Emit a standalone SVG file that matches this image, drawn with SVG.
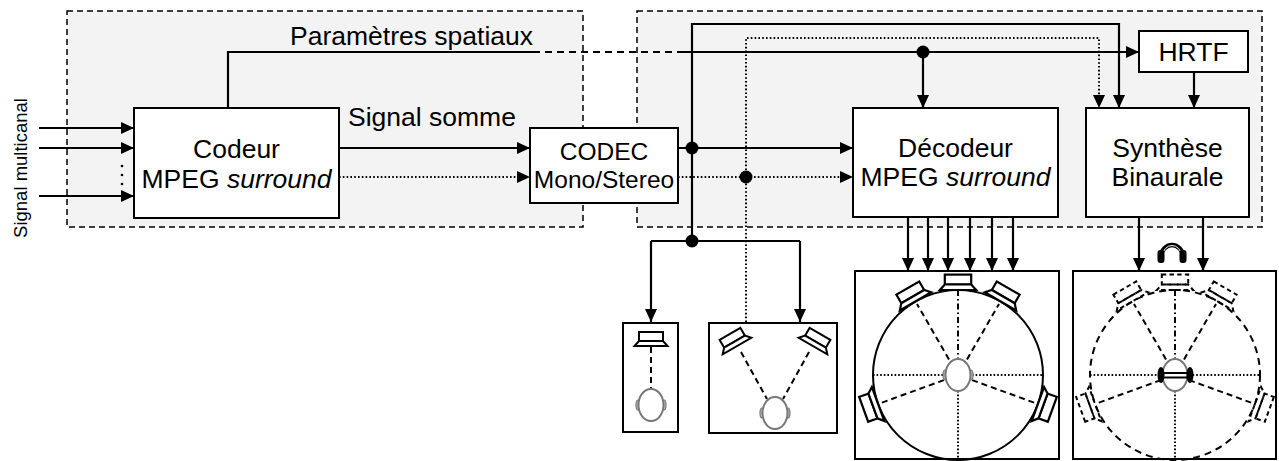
<svg xmlns="http://www.w3.org/2000/svg" width="1279" height="461" viewBox="0 0 1279 461">
  <style>
    text { font-family: "Liberation Sans", Arial, sans-serif; fill: #000; }
    .lbl { font-size: 26.5px; }
    .ctr { text-anchor: middle; }
    .grp { fill: #f3f3f3; stroke: #000; stroke-width: 1.5; stroke-dasharray: 6 4; }
    .box { fill: #fff; stroke: #000; stroke-width: 2; }
    .w { fill: none; stroke: #000; stroke-width: 2.2; }
    .dt { fill: none; stroke: #000; stroke-width: 2; stroke-dasharray: 1.6 2.2; }
    .ds { fill: none; stroke: #000; stroke-width: 2; stroke-dasharray: 7 5; }
    .jn { fill: #000; }
    .spk { fill: #fff; stroke: #000; stroke-width: 2; stroke-linejoin: miter; }
    .spkd { fill: none; stroke: #000; stroke-width: 1.8; stroke-dasharray: 4 3; }
    .ray { fill: none; stroke: #000; stroke-width: 2; stroke-dasharray: 6 4; }
    .raydd { fill: none; stroke: #000; stroke-width: 2; stroke-dasharray: 6 3 1.5 3; }
    .rayd { fill: none; stroke: #000; stroke-width: 2; stroke-dasharray: 1.6 2; }
  </style>
  <defs>
    <marker id="arr" markerUnits="userSpaceOnUse" markerWidth="14" markerHeight="13" refX="13" refY="6" orient="auto">
      <path d="M0,0 L13,6 L0,12 Z" fill="#000" stroke="none"/>
    </marker>
    <!-- loudspeaker: base centred on the origin, facing +y -->
    <g id="spkShape">
      <rect x="-12" y="-14" width="24" height="9"/>
      <path d="M-12,-5 H12 L16.5,0 H-16.5 Z"/>
    </g>
    <!-- listener head seen from above -->
    <g id="head">
      <ellipse cx="-13" cy="0" rx="2" ry="5" fill="#bbb" stroke="#777" stroke-width="1.2"/>
      <ellipse cx="13" cy="0" rx="2" ry="5" fill="#bbb" stroke="#777" stroke-width="1.2"/>
      <ellipse cx="0" cy="0" rx="12.5" ry="16" fill="#fff" stroke="#777" stroke-width="2"/>
    </g>
    <!-- rays from listener to a 5-speaker layout -->
    <g id="rays">
      <path class="raydd" d="M0,-85 V-16"/>
      <path class="ray" d="M-9,-15.6 L-41,-71 M9,-15.6 L41,-71 M-14.1,5.1 L-77.1,28 M14.1,5.1 L77.1,28"/>
      <path class="rayd" d="M-85,0 H-14 M14,0 H85 M0,16 V85"/>
    </g>
  </defs>

  <!-- encoder side and decoder side groupings -->
  <rect class="grp" x="67" y="11" width="516" height="216"/>
  <rect class="grp" x="637" y="11" width="625" height="216"/>

  <text transform="translate(27,168) rotate(-90)" font-size="18.5" text-anchor="middle">Signal multicanal</text>
  <text class="lbl" x="290" y="45">Paramètres spatiaux</text>
  <text class="lbl" x="348" y="126">Signal somme</text>

  <g id="codeur">
    <rect class="box" x="134" y="108" width="205" height="110"/>
    <text class="lbl ctr" x="236.5" y="158">Codeur</text>
    <text class="lbl ctr" x="236.5" y="188">MPEG <tspan font-style="italic">surround</tspan></text>
  </g>

  <g id="codec">
    <rect class="box" x="530" y="128" width="148" height="75"/>
    <text class="ctr" x="604" y="160" font-size="24.5">CODEC</text>
    <text class="ctr" x="604" y="188" font-size="24.5">Mono/Stereo</text>
  </g>

  <g id="decodeur">
    <rect class="box" x="853" y="108" width="205" height="109"/>
    <text class="lbl ctr" x="955.5" y="157">Décodeur</text>
    <text class="lbl ctr" x="955.5" y="186">MPEG <tspan font-style="italic">surround</tspan></text>
  </g>

  <g id="synthese">
    <rect class="box" x="1086" y="108" width="163" height="109"/>
    <text class="lbl ctr" x="1167.5" y="157">Synthèse</text>
    <text class="lbl ctr" x="1167.5" y="186">Binaurale</text>
  </g>

  <g id="hrtf">
    <rect class="box" x="1139" y="31" width="109" height="41"/>
    <text class="lbl ctr" x="1193.5" y="61">HRTF</text>
  </g>

  <!-- mono playback -->
  <g id="mono">
    <rect class="box" x="623" y="323" width="55" height="109"/>
    <path class="ray" d="M651,347 V389"/>
    <use href="#spkShape" class="spk" transform="translate(651,346)"/>
    <use href="#head" transform="translate(651,405)"/>
  </g>

  <!-- stereo playback -->
  <g id="stereo">
    <rect class="box" x="709" y="323" width="128" height="110"/>
    <path class="ray" d="M741,352 L767,399 M809,352 L783,399"/>
    <use href="#spkShape" class="spk" transform="translate(737,346) rotate(-30)"/>
    <use href="#spkShape" class="spk" transform="translate(813,346) rotate(30)"/>
    <use href="#head" transform="translate(775,413)"/>
  </g>

  <!-- 5.1 loudspeaker playback -->
  <g id="multicanal">
    <rect class="box" x="855" y="271" width="204" height="188"/>
    <circle cx="958" cy="375" r="85" fill="none" stroke="#000" stroke-width="2"/>
    <use href="#rays" transform="translate(958,375)"/>
    <use href="#spkShape" class="spk" transform="translate(958,375) rotate(0) translate(0,-85) scale(1.1)"/>
    <use href="#spkShape" class="spk" transform="translate(958,375) rotate(-30) translate(0,-85) scale(1.1)"/>
    <use href="#spkShape" class="spk" transform="translate(958,375) rotate(30) translate(0,-85) scale(1.1)"/>
    <use href="#spkShape" class="spk" transform="translate(958,375) rotate(-110) translate(0,-85) scale(1.1)"/>
    <use href="#spkShape" class="spk" transform="translate(958,375) rotate(110) translate(0,-85) scale(1.1)"/>
    <use href="#head" transform="translate(958,375)"/>
  </g>

  <!-- binaural playback over headphones with virtual speakers -->
  <g id="binaural">
    <rect class="box" x="1073" y="271" width="203" height="188"/>
    <circle cx="1175" cy="375" r="85" fill="none" stroke="#000" stroke-width="2" stroke-dasharray="7 5"/>
    <use href="#rays" transform="translate(1175,375)"/>
    <use href="#spkShape" class="spkd" transform="translate(1175,375) rotate(0) translate(0,-85) scale(1.1)"/>
    <use href="#spkShape" class="spkd" transform="translate(1175,375) rotate(-30) translate(0,-85) scale(1.1)"/>
    <use href="#spkShape" class="spkd" transform="translate(1175,375) rotate(30) translate(0,-85) scale(1.1)"/>
    <use href="#spkShape" class="spkd" transform="translate(1175,375) rotate(-110) translate(0,-85) scale(1.1)"/>
    <use href="#spkShape" class="spkd" transform="translate(1175,375) rotate(110) translate(0,-85) scale(1.1)"/>
    <use href="#head" transform="translate(1175,375)"/>
    <path d="M1163,373 H1188 M1163,377.5 H1188" stroke="#000" stroke-width="1.8"/>
    <ellipse cx="1161" cy="375" rx="3.5" ry="8" fill="#000"/>
    <ellipse cx="1190" cy="375" rx="3.5" ry="8" fill="#000"/>
    <!-- headphone pictogram -->
    <path d="M1161,257 A11,12 0 0 1 1183,257" fill="none" stroke="#000" stroke-width="4.5"/>
    <path d="M1162.5,256 A9.5,10.5 0 0 1 1181.5,256" fill="none" stroke="#fff" stroke-width="1"/>
    <rect x="1157.5" y="250" width="7" height="13" rx="3" fill="#000"/>
    <rect x="1179.5" y="250" width="7" height="13" rx="3" fill="#000"/>
  </g>

  <g id="connectors">
    <!-- multichannel inputs -->
    <path class="w" d="M39,128 H134" marker-end="url(#arr)"/>
    <path class="w" d="M39,148 H134" marker-end="url(#arr)"/>
    <path class="w" d="M39,196 H134" marker-end="url(#arr)"/>
    <circle cx="122" cy="166" r="1.3"/>
    <circle cx="122" cy="175" r="1.3"/>
    <circle cx="122" cy="184" r="1.3"/>

    <!-- spatial parameters -->
    <path class="w" d="M228,108 V52 H533"/>
    <path class="ds" d="M533,52 H678"/>
    <path class="w" d="M678,52 H1139" marker-end="url(#arr)"/>
    <path class="w" d="M923,52 V108" marker-end="url(#arr)"/>
    <circle class="jn" cx="923" cy="52" r="6.5"/>

    <!-- downmix to codec -->
    <path class="w" d="M339,148 H530" marker-end="url(#arr)"/>
    <path class="dt" d="M339,177 H530" marker-end="url(#arr)"/>

    <!-- mono branch -->
    <path class="w" d="M678,148 H853" marker-end="url(#arr)"/>
    <path class="w" d="M692,241 V24 H1119 V108" marker-end="url(#arr)"/>
    <path class="w" d="M651,241 H800"/>
    <path class="w" d="M651,241 V322" marker-end="url(#arr)"/>
    <path class="w" d="M800,241 V322" marker-end="url(#arr)"/>
    <circle class="jn" cx="692" cy="148" r="6.5"/>
    <circle class="jn" cx="692" cy="241" r="6.5"/>

    <!-- stereo branch -->
    <path class="dt" d="M678,177 H853" marker-end="url(#arr)"/>
    <path class="dt" d="M746,322 V38 H1099 V108" marker-end="url(#arr)"/>
    <circle class="jn" cx="746" cy="177" r="6.5"/>

    <!-- HRTF to synthesis -->
    <path class="w" d="M1194,72 V108" marker-end="url(#arr)"/>

    <!-- decoder outputs -->
    <path class="w" d="M908,217 V271" marker-end="url(#arr)"/>
    <path class="w" d="M928,217 V271" marker-end="url(#arr)"/>
    <path class="w" d="M948,217 V271" marker-end="url(#arr)"/>
    <path class="w" d="M970,217 V271" marker-end="url(#arr)"/>
    <path class="w" d="M992,217 V271" marker-end="url(#arr)"/>
    <path class="w" d="M1013,217 V271" marker-end="url(#arr)"/>

    <!-- binaural outputs -->
    <path class="w" d="M1139,217 V271" marker-end="url(#arr)"/>
    <path class="w" d="M1203,217 V271" marker-end="url(#arr)"/>
  </g>
</svg>
